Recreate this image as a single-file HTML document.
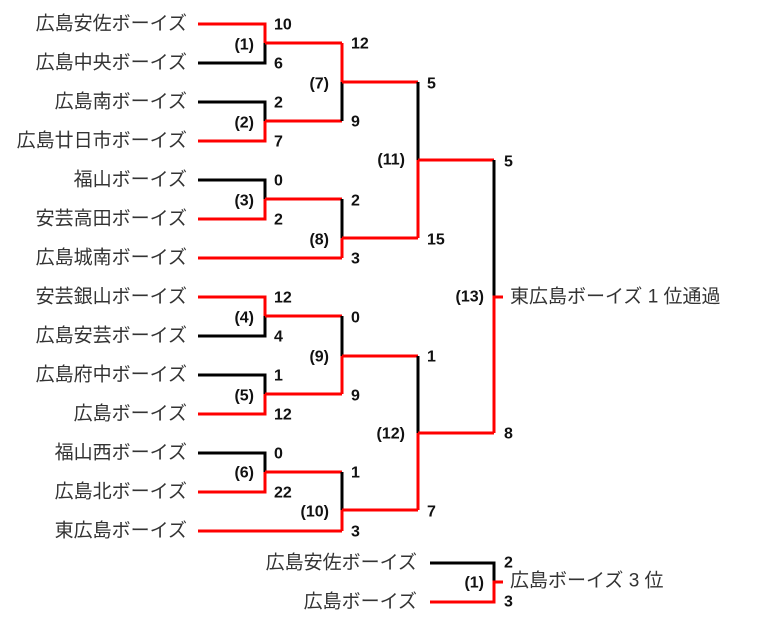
<!DOCTYPE html>
<html><head><meta charset="utf-8"><style>
html,body{margin:0;padding:0;background:#fff;}
svg{display:block;}
.n{font-family:"Liberation Sans","Noto Sans CJK JP",sans-serif;font-size:19px;fill:#333;dominant-baseline:central;}
.s{font-family:"Liberation Sans",sans-serif;font-size:16px;font-weight:bold;fill:#111;dominant-baseline:central;}
.m{font-family:"Liberation Sans",sans-serif;font-size:16px;font-weight:bold;fill:#111;dominant-baseline:central;text-anchor:end;}
</style></head><body>
<svg width="770" height="620" viewBox="0 0 770 620" xmlns="http://www.w3.org/2000/svg">
<g fill="none" stroke-width="3">
<!-- R1 inputs -->
<path d="M198 24H265V43" stroke="#f00"/><path d="M198 63H265V43" stroke="#000"/>
<path d="M198 102H265V121" stroke="#000"/><path d="M198 141H265V121" stroke="#f00"/>
<path d="M198 180H265V199" stroke="#000"/><path d="M198 219H265V199" stroke="#f00"/>
<path d="M198 297H265V316" stroke="#f00"/><path d="M198 336H265V316" stroke="#000"/>
<path d="M198 375H265V394" stroke="#000"/><path d="M198 414H265V394" stroke="#f00"/>
<path d="M198 453H265V472" stroke="#000"/><path d="M198 492H265V472" stroke="#f00"/>
<!-- R1 outputs (red) -->
<path d="M265 43H342M265 121H342M265 199H342M198 258H342M265 316H342M265 394H342M265 472H342M198 531H342" stroke="#f00"/>
<!-- R2 verticals -->
<path d="M342 43V82" stroke="#f00"/><path d="M342 82V121" stroke="#000"/>
<path d="M342 199V238" stroke="#000"/><path d="M342 238V258" stroke="#f00"/>
<path d="M342 316V356" stroke="#000"/><path d="M342 356V394" stroke="#f00"/>
<path d="M342 472V510" stroke="#000"/><path d="M342 510V531" stroke="#f00"/>
<!-- R2 outputs -->
<path d="M342 82H418M342 238H418M342 356H418M342 510H418" stroke="#f00"/>
<!-- R3 verticals -->
<path d="M418 82V160" stroke="#000"/><path d="M418 160V238" stroke="#f00"/>
<path d="M418 356V433" stroke="#000"/><path d="M418 433V510" stroke="#f00"/>
<path d="M418 160H494M418 433H494" stroke="#f00"/>
<!-- Final -->
<path d="M494 160V297" stroke="#000"/><path d="M494 433V297H503" stroke="#f00"/>
<!-- 3rd -->
<path d="M430 563H494V582" stroke="#000"/><path d="M430 602H494V582H503" stroke="#f00"/>
</g>
<g class="n" text-anchor="end">
<text x="187" y="24">広島安佐ボーイズ</text>
<text x="187" y="63">広島中央ボーイズ</text>
<text x="187" y="102">広島南ボーイズ</text>
<text x="187" y="141">広島廿日市ボーイズ</text>
<text x="187" y="180">福山ボーイズ</text>
<text x="187" y="219">安芸高田ボーイズ</text>
<text x="187" y="258">広島城南ボーイズ</text>
<text x="187" y="297">安芸銀山ボーイズ</text>
<text x="187" y="336">広島安芸ボーイズ</text>
<text x="187" y="375">広島府中ボーイズ</text>
<text x="187" y="414">広島ボーイズ</text>
<text x="187" y="453">福山西ボーイズ</text>
<text x="187" y="492">広島北ボーイズ</text>
<text x="187" y="531">東広島ボーイズ</text>
<text x="417" y="563">広島安佐ボーイズ</text>
<text x="417" y="602">広島ボーイズ</text>
</g>
<text class="n" x="510" y="297">東広島ボーイズ 1 位通過</text>
<text class="n" x="510" y="581">広島ボーイズ 3 位</text>
<g class="s">
<text x="274" y="25">10</text><text x="274" y="64">6</text>
<text x="274" y="103">2</text><text x="274" y="142">7</text>
<text x="274" y="181">0</text><text x="274" y="220">2</text>
<text x="274" y="298">12</text><text x="274" y="337">4</text>
<text x="274" y="376">1</text><text x="274" y="415">12</text>
<text x="274" y="454">0</text><text x="274" y="493">22</text>
<text x="351" y="44">12</text><text x="351" y="122">9</text>
<text x="351" y="201">2</text><text x="351" y="259">3</text>
<text x="351" y="318">0</text><text x="351" y="396">9</text>
<text x="351" y="473">1</text><text x="351" y="532">3</text>
<text x="427" y="84">5</text><text x="427" y="240">15</text>
<text x="427" y="357">1</text><text x="427" y="512">7</text>
<text x="504" y="162">5</text><text x="504" y="434">8</text>
<text x="504" y="563">2</text><text x="504" y="602">3</text>
</g>
<g class="m">
<text x="254" y="45">(1)</text><text x="254" y="123">(2)</text>
<text x="254" y="201">(3)</text><text x="254" y="318">(4)</text>
<text x="254" y="396">(5)</text><text x="254" y="473">(6)</text>
<text x="329" y="84">(7)</text><text x="329" y="240">(8)</text>
<text x="329" y="357">(9)</text><text x="329" y="512">(10)</text>
<text x="405" y="160">(11)</text><text x="405" y="434">(12)</text>
<text x="484" y="297">(13)</text><text x="484" y="583">(1)</text>
</g>
</svg>
</body></html>
